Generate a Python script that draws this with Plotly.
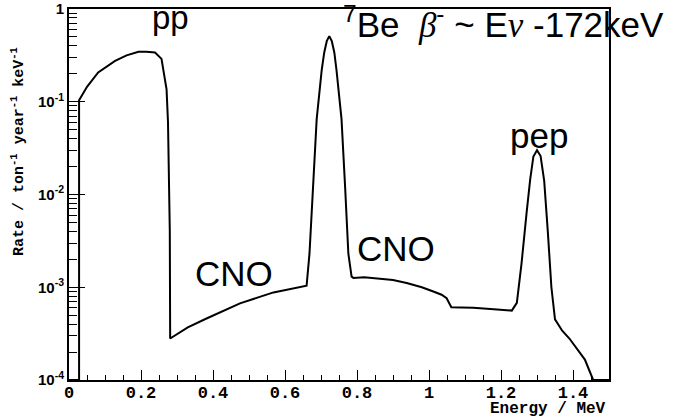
import numpy as np
import plotly.graph_objects as go

# ---- data ----
energy_mev = [0.0, 0.028, 0.028, 0.05, 0.081, 0.10, 0.128, 0.16, 0.193, 0.215, 0.239,
              0.257, 0.264, 0.271, 0.275, 0.278, 0.280, 0.281,
              0.33, 0.382, 0.475, 0.568, 0.62, 0.66,
              0.668, 0.677, 0.688, 0.702, 0.709, 0.716, 0.723, 0.730, 0.737, 0.743,
              0.757, 0.767, 0.776, 0.785, 0.79, 0.82, 0.845, 0.90, 0.938, 0.98, 1.012,
              1.035, 1.049, 1.056, 1.062, 1.09, 1.123, 1.18, 1.23,
              1.244, 1.257, 1.271, 1.281, 1.29, 1.30, 1.31, 1.32, 1.33, 1.34, 1.35,
              1.37, 1.39, 1.41, 1.433, 1.456, 1.5]
rate = [1e-4, 1e-4, 0.104, 0.145, 0.207, 0.234, 0.276, 0.316, 0.346, 0.345, 0.34,
        0.29, 0.206, 0.136, 0.06, 0.017, 0.004, 2.8e-4,
        3.7e-4, 4.6e-4, 6.7e-4, 8.8e-4, 9.6e-4, 1.04e-3,
        2.3e-3, 0.012, 0.065, 0.22, 0.34, 0.45, 0.51, 0.45, 0.34, 0.22,
        0.065, 0.012, 2.3e-3, 1.3e-3, 1.26e-3, 1.28e-3, 1.26e-3, 1.2e-3, 1.11e-3, 1.0e-3, 9.0e-4,
        8.3e-4, 7.6e-4, 6.6e-4, 6.1e-4, 6.05e-4, 6.0e-4, 5.8e-4, 5.6e-4,
        6.8e-4, 1.8e-3, 6.3e-3, 0.0145, 0.0257, 0.030, 0.026, 0.014, 4.0e-3, 1.0e-3, 4.5e-4,
        3.4e-4, 2.8e-4, 2.2e-4, 1.66e-4, 1e-4, 1e-4]

x_tick_vals = [0, 0.2, 0.4, 0.6, 0.8, 1.0, 1.2, 1.4]
x_tick_text = ["0", "0.2", "0.4", "0.6", "0.8", "1", "1.2", "1.4"]
y_tick_vals = [1e-4, 1e-3, 1e-2, 1e-1, 1]
y_tick_text = ["10<sup>-4</sup>", "10<sup>-3</sup>", "10<sup>-2</sup>", "10<sup>-1</sup>", "1"]

x_title = "Energy / MeV"
y_title = "Rate / ton<sup>-1</sup> year<sup>-1</sup> keV<sup>-1</sup>"
label_pp = "pp"
label_be = ("<sup>7</sup>Be\u00a0\u00a0<span style=\"font-family:Liberation Serif\"><i>β</i></span>"
            "<sup>-</sup>\u00a0~\u00a0E<span style=\"font-family:Liberation Serif\"><i>ν</i></span>\u00a0-172keV")
label_cno = "CNO"
label_pep = "pep"

# ---- figure ----
W, H = 674, 417
ml, mr, mt, mb = 69, 65, 9, 37
pw, ph = W - ml - mr, H - mt - mb


def px(xp):
    return (xp - ml) / pw


def py(yp):
    return (H - mb - yp) / ph


fig = go.Figure()
fig.add_trace(go.Scatter(x=energy_mev, y=rate, mode="lines",
                         line=dict(color="black", width=2), hoverinfo="skip",
                         showlegend=False))

minor_y = [m * 10.0 ** e for e in range(-4, 0) for m in range(2, 10)]

fig.update_layout(
    template="none",
    width=W, height=H,
    margin=dict(l=ml, r=mr, t=mt, b=mb, pad=0),
    paper_bgcolor="white", plot_bgcolor="white",
    showlegend=False,
    xaxis=dict(range=[0, 1.5], showgrid=False, zeroline=False, automargin=False,
               showline=True, linecolor="black", linewidth=2, mirror=True,
               tickmode="array", tickvals=x_tick_vals, ticktext=x_tick_text,
               ticks="inside", ticklen=10, tickwidth=1.3, tickcolor="black",
               minor=dict(dtick=0.05, tick0=0, ticks="inside", ticklen=5,
                          tickwidth=1.2, tickcolor="black", showgrid=False),
               tickfont=dict(family="Liberation Mono", size=17, color="black", weight="bold"),
               ticklabelstandoff=-4),
    yaxis=dict(type="log", range=[-4, 0], showgrid=False, zeroline=False, automargin=False,
               showline=True, linecolor="black", linewidth=2, mirror=True,
               tickmode="array", tickvals=y_tick_vals, ticktext=y_tick_text,
               ticks="inside", ticklen=16, tickwidth=1.3, tickcolor="black",
               minor=dict(tickmode="array", tickvals=minor_y, ticks="inside", ticklen=8,
                          tickwidth=1.2, tickcolor="black", showgrid=False),
               tickfont=dict(family="Liberation Sans", size=15, color="black", weight="bold"),
               ticklabelstandoff=0),
)

big = dict(family="Liberation Sans", color="black")
ann = [
    dict(text=y_title, x=px(18), y=py(152), textangle=-90, xanchor="center",
         font=dict(family="Liberation Mono", size=15, color="black", weight="bold")),
    dict(text=x_title, x=px(608), y=py(409), xanchor="right",
         font=dict(family="Liberation Mono", size=16, color="black", weight="bold")),
    dict(text=label_pp, x=px(150), y=py(18), xanchor="left", font=dict(size=33, **big)),
    dict(text=label_be, x=px(341), y=py(23), xanchor="left", font=dict(size=35, **big)),
    dict(text=label_cno, x=px(193), y=py(273), xanchor="left", font=dict(size=35, **big)),
    dict(text=label_cno, x=px(355), y=py(249), xanchor="left", font=dict(size=35, **big)),
    dict(text=label_pep, x=px(508), y=py(135), xanchor="left", font=dict(size=35, **big)),
]
for a in ann:
    a.setdefault("yanchor", "middle")
    a.update(xref="paper", yref="paper", showarrow=False)
fig.update_layout(annotations=ann)

fig.write_html("out.html", config={"displayModeBar": False},
               post_script="document.body.style.margin='0';")
